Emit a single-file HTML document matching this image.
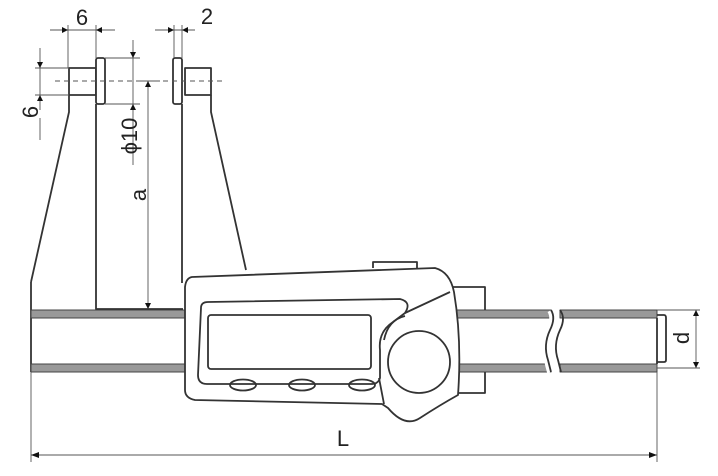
<!DOCTYPE html>
<html><head><style>html,body{margin:0;padding:0;background:#fff}svg{display:block}</style></head><body>
<svg width="718" height="476" viewBox="0 0 718 476" xmlns="http://www.w3.org/2000/svg" font-family="Liberation Sans, sans-serif">
<g fill="none" stroke="#333" stroke-width="1.8" stroke-linejoin="round">
<!-- beam -->
<rect x="31" y="310" width="520" height="62" fill="#fff" stroke="none"/>
<path d="M31 282 L31 372"/>
<rect x="31" y="310" width="520" height="8" fill="#999" stroke="#444" stroke-width="1"/>
<rect x="31" y="364" width="520" height="8" fill="#999" stroke="#444" stroke-width="1"/>
<rect x="560" y="310" width="97" height="8" fill="#999" stroke="#444" stroke-width="1"/>
<rect x="560" y="364" width="97" height="8" fill="#999" stroke="#444" stroke-width="1"/>
<path d="M551 310 Q556 318 550 330 Q543 345 551 372" stroke="#fff" stroke-width="8"/>
<path d="M551 310 Q556 318 550 330 Q543 345 548 360 L551 372"/>
<path d="M560 310 Q566 318 560 330 Q553 345 558 360 L561 372"/>
<path d="M657 318 L657 364"/>
<path d="M657 315 L664 315 Q666 315 666 318 L666 360 Q666 362 664 362 L657 362"/>
<!-- left jaw -->
<path d="M69 95 L69 112 L31 282 M96 104 L96 309 L183 309"/>
<rect x="69" y="68" width="27" height="27" fill="#fff"/>
<rect x="96" y="58" width="9" height="46" rx="2" fill="#fff"/>
<!-- right jaw -->
<path d="M182 104 L182 283 M211 95 L211 112 L246 270"/>
<rect x="185" y="68" width="26" height="27" fill="#fff"/>
<rect x="173" y="58" width="9" height="46" rx="2" fill="#fff"/>
<!-- back plate -->
<path d="M452 287 L485 287 L485 310 M485 372 L485 393 L455 393"/>
<!-- body -->
<path d="M192 277 L435 268 Q450 272 454 292 Q462 340 458 395 Q440 405 420 418 Q405 428 388 408 L382 404 L195 400 Q185 398 185 390 L185 287 Q186 278 192 277 Z" fill="#fff"/>
<path d="M373 268 L373 262 L417 262 L417 268" />
<path d="M201 308 Q201 302 208 302 L400 299 Q412 302 405 313 L393 322 Q378 332 380 350 L380 378 Q378 384 372 384 L207 384 Q198 384 198 375 Z" fill="#fff"/>
<path d="M405 313 L450 292 M384 340 Q388 320 405 316 M379 378 L384 404"/>
<rect x="208" y="315" width="163" height="54" rx="3" fill="#fff"/>
<circle cx="419" cy="362" r="31" fill="#fff"/>
<ellipse cx="243" cy="385" rx="13" ry="5.5"/>
<ellipse cx="302" cy="385" rx="13" ry="5.5"/>
<ellipse cx="362" cy="385" rx="13" ry="5.5"/>
</g>
<!-- dimension lines -->
<g fill="none" stroke="#555" stroke-width="0.9">
<path d="M55 81 L222 81" stroke-dasharray="5 4"/>
<path d="M50 30 L115 30 M68 25 L68 68 M96 25 L96 58"/>
<path d="M155 30 L195 30 M174 25 L174 58 M182 25 L182 58"/>
<path d="M40 48 L40 110 M35 68 L69 68 M35 95 L69 95 M40 118 L40 140"/>
<path d="M133 40 L133 165 M105 58 L140 58 M105 104 L140 104"/>
<path d="M148 81 L148 309 M140 81 L160 81"/>
<path d="M657 310 L700 310 M657 368 L700 368 M696 310 L696 368"/>
<path d="M31 372 L31 462 M657 372 L657 462 M31 455 L657 455"/>
</g>
<g fill="#111">
<path d="M62 27 L68 30 L62 33Z M102 27 L96 30 L102 33Z"/>
<path d="M168 27 L174 30 L168 33Z M188 27 L182 30 L188 33Z"/>
<path d="M37 62 L40 68 L43 62Z M37 101 L40 95 L43 101Z"/>
<path d="M130 52 L133 58 L136 52Z M130 110 L133 104 L136 110Z"/>
<path d="M145 87 L148 81 L151 87Z M145 303 L148 309 L151 303Z"/>
<path d="M693 316 L696 310 L699 316Z M693 362 L696 368 L699 362Z"/>
<path d="M39 452 L31 455 L39 458Z M649 452 L657 455 L649 458Z"/>
</g>
<g fill="#222" font-size="22">
<text x="82" y="25" text-anchor="middle">6</text>
<text x="207" y="24" text-anchor="middle">2</text>
<text transform="translate(38,112) rotate(-90)" text-anchor="middle">6</text>
<text transform="translate(137,136) rotate(-90)" text-anchor="middle">ϕ10</text>
<text transform="translate(146,195) rotate(-90)" text-anchor="middle">a</text>
<text transform="translate(689,338) rotate(-90)" text-anchor="middle">d</text>
<text x="343" y="446" text-anchor="middle">L</text>
</g>
</svg>
</body></html>
